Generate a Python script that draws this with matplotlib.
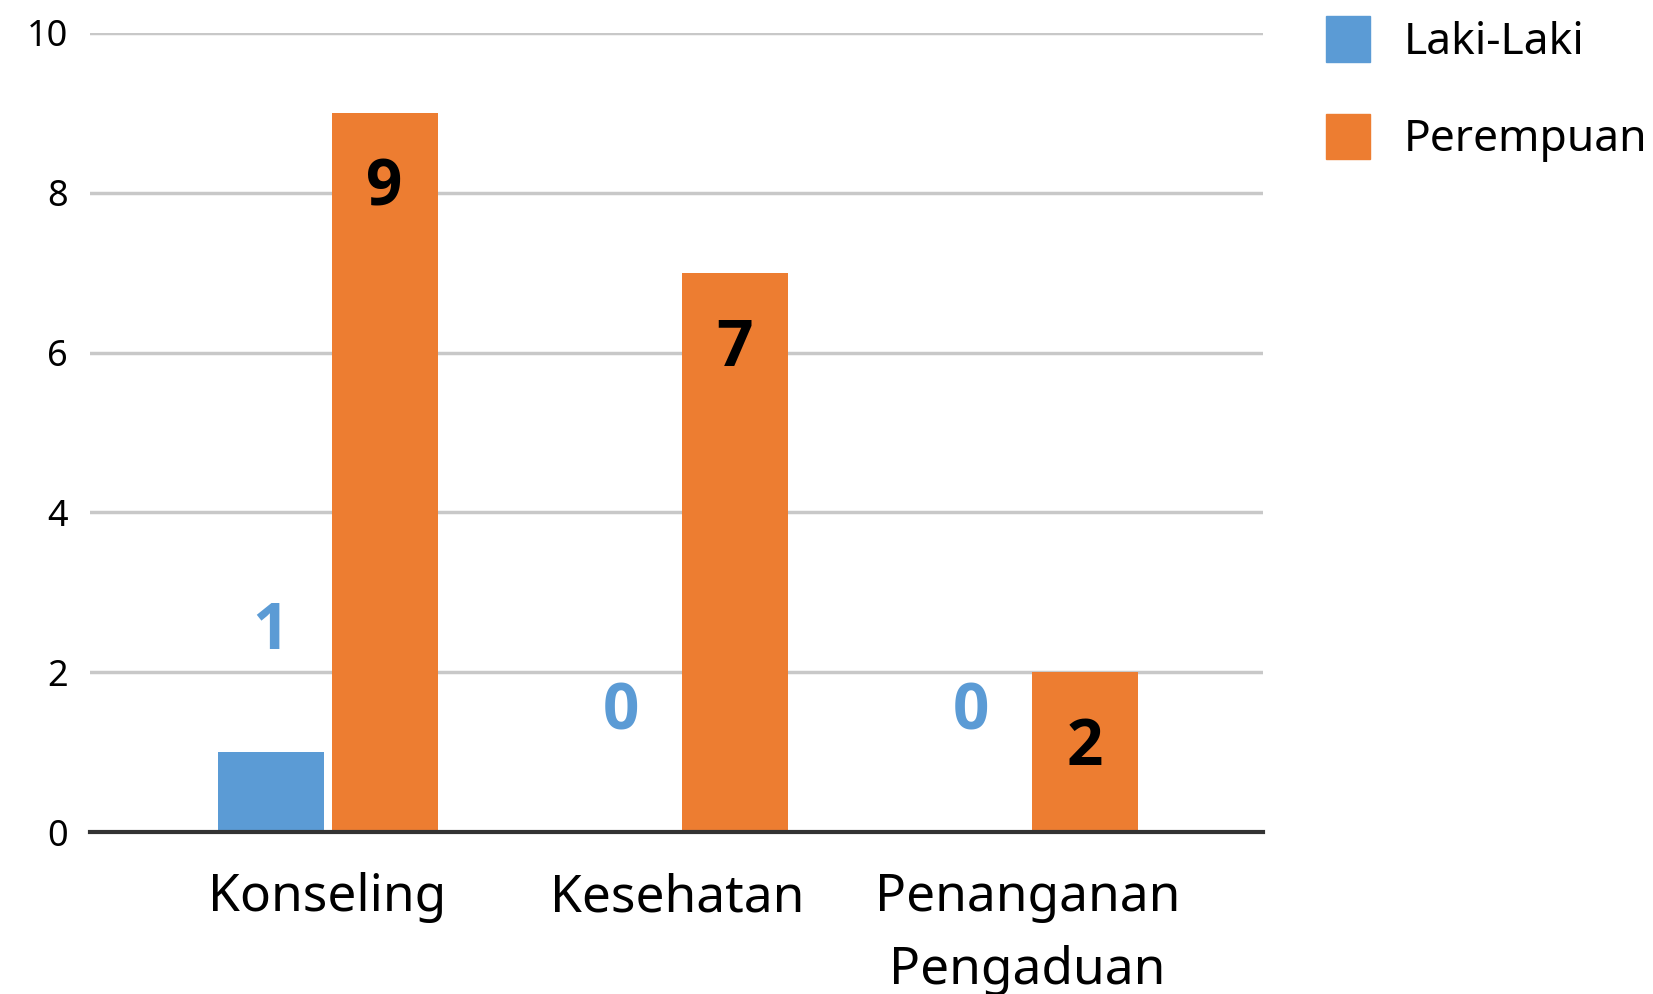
import numpy as np
import matplotlib.pyplot as plt
from matplotlib.patches import Patch

plt.rcParams['font.family'] = ['Noto Sans', 'DejaVu Sans']

# Data
categories = ['Konseling', 'Kesehatan', 'Penanganan\nPengaduan']
laki_laki = [1, 0, 0]
perempuan = [9, 7, 2]
series_names = ['Laki-Laki', 'Perempuan']

blue = '#5B9BD5'
orange = '#ED7D31'

fig = plt.figure(figsize=(16.53, 9.94), dpi=100)
ax = fig.add_axes([90 / 1653, 1 - 832 / 994, (1263 - 90) / 1653, (832 - 33) / 994])

x = np.arange(len(categories))
w = 0.303
off = 0.163
ax.bar(x - off, laki_laki, w, color=blue, zorder=3)
ax.bar(x + off, perempuan, w, color=orange, zorder=3)

ax.set_ylim(0, 10)
ax.set_xlim(-0.679, 2.673)
ax.set_yticks([0, 2, 4, 6, 8, 10])
ax.yaxis.grid(True, color='#C8C8C8', linewidth=2.5)
ax.set_axisbelow(True)
for s in ['top', 'right', 'left']:
    ax.spines[s].set_visible(False)
ax.spines['bottom'].set_color('#333333')
ax.spines['bottom'].set_linewidth(3)
ax.spines['bottom'].set_zorder(4)

ax.set_xticks(x)
ax.set_xticklabels(categories, fontsize=37, linespacing=1.55)
ax.tick_params(axis='x', length=0, pad=29)
ax.tick_params(axis='y', length=0, pad=16, labelsize=26)

# data labels
bold = ['Open Sans', 'DejaVu Sans']
for xi, v in zip(x, laki_laki):
    ax.annotate(str(v), (xi - off, v), xytext=(0, 86), textcoords='offset points',
                ha='center', va='center', fontsize=46, fontweight='bold',
                family=bold, color=blue)
for xi, v in zip(x, perempuan):
    ax.annotate(str(v), (xi + off, v), xytext=(0, -55), textcoords='offset points',
                ha='center', va='center', fontsize=46, fontweight='bold',
                family=bold, color='black')

handles = [Patch(color=blue), Patch(color=orange)]
fig.legend(handles, series_names, loc='upper left', bbox_to_anchor=(1326 / 1653, 1 - 16 / 994),
           frameon=False, fontsize=32, handlelength=1.0, handleheight=1.2,
           handletextpad=0.75, labelspacing=1.1, borderpad=0, borderaxespad=0)

fig.savefig('out.png', dpi=100)
